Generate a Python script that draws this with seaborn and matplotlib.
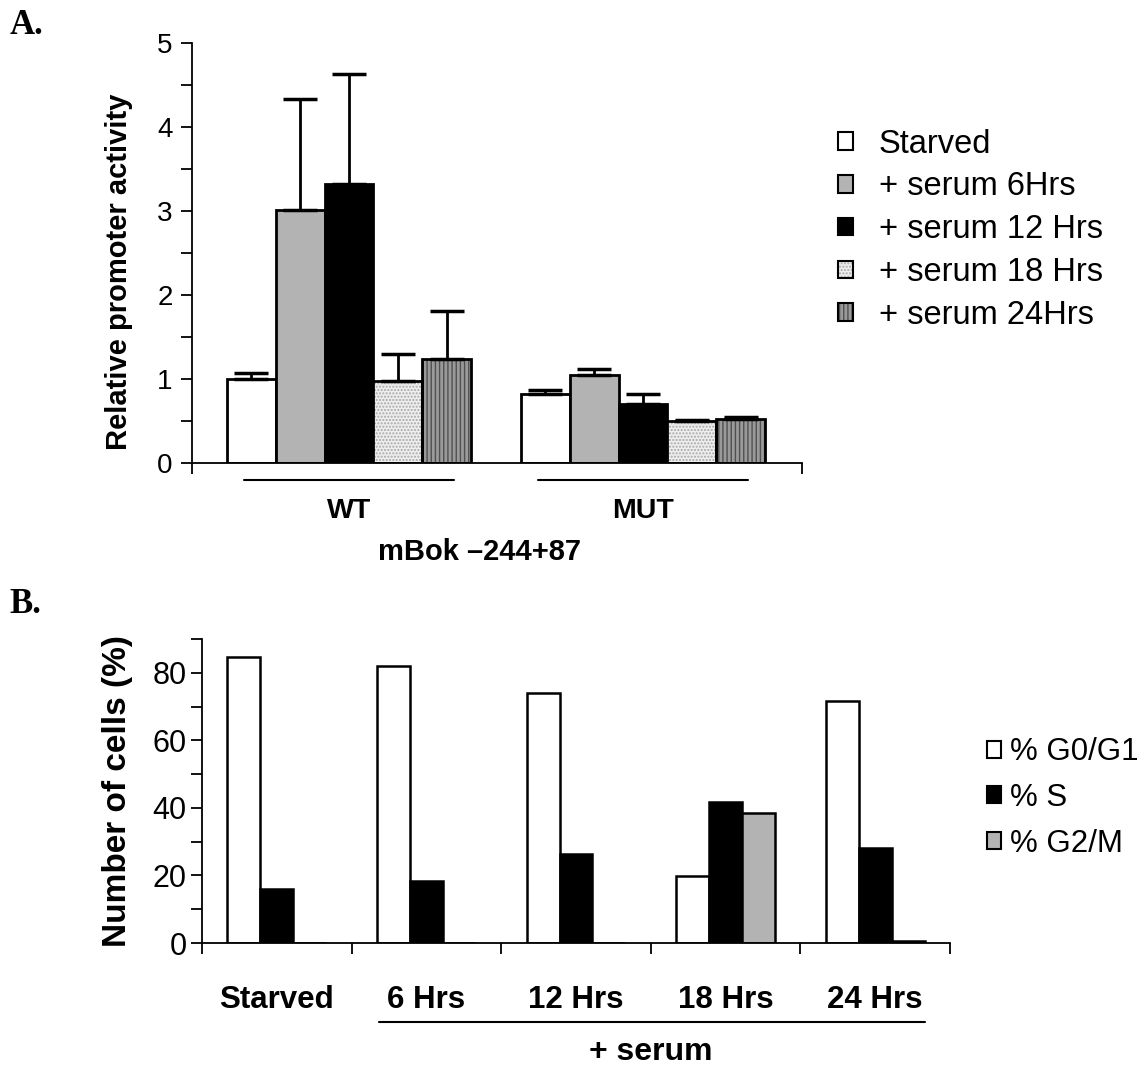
import numpy as np
import pandas as pd
import seaborn as sns
import matplotlib.pyplot as plt
from matplotlib.patches import Patch, Rectangle
from matplotlib.ticker import MultipleLocator, FixedLocator

# --- panel A: promoter activity (mean, SD) ---
constructs = ['WT', 'MUT']
conditions = ['Starved', '+ serum 6Hrs', '+ serum 12 Hrs', '+ serum 18 Hrs', '+ serum 24Hrs']
wt_activity = [1.00, 3.01, 3.32, 0.98, 1.24]
wt_sd = [0.07, 1.32, 1.31, 0.32, 0.57]
mut_activity = [0.82, 1.05, 0.70, 0.50, 0.52]
mut_sd = [0.05, 0.07, 0.12, 0.01, 0.03]

# --- panel B: cell cycle distribution ---
timepoints = ['Starved', '6 Hrs', '12 Hrs', '18 Hrs', '24 Hrs']
phases = ['% G0/G1', '% S', '% G2/M']
g0g1 = [84.7, 82.1, 74.1, 19.9, 71.7]
s_phase = [16.0, 18.4, 26.4, 41.8, 28.1]
g2m = [0.0, 0.0, 0.0, 38.5, 0.7]

df_a = pd.DataFrame({
    'construct': np.repeat(constructs, len(conditions)),
    'condition': conditions * 2,
    'activity': wt_activity + mut_activity,
    'sd': wt_sd + mut_sd,
})
df_b = pd.DataFrame({
    'time': timepoints * 3,
    'phase': np.repeat(phases, len(timepoints)),
    'pct': g0g1 + s_phase + g2m,
})

sns.set_style('ticks')
plt.rcParams['font.family'] = ['Liberation Sans', 'DejaVu Sans']
plt.rcParams['hatch.linewidth'] = 1.0
for k in ['text.color', 'axes.labelcolor', 'xtick.color', 'ytick.color', 'axes.edgecolor']:
    plt.rcParams[k] = 'black'

fill_a = {'Starved': 'white', '+ serum 6Hrs': '#b3b3b3', '+ serum 12 Hrs': 'black',
          '+ serum 18 Hrs': '#eeeeee', '+ serum 24Hrs': '#9a9a9a'}
hatch_a = {'+ serum 18 Hrs': ('.....', '#a8a8a8'), '+ serum 24Hrs': ('||||', '#505050')}
fill_b = {'% G0/G1': 'white', '% S': 'black', '% G2/M': '#b3b3b3'}

fig = plt.figure(figsize=(11.47, 10.68), dpi=100)
axA = fig.add_axes([0.1674, 0.5665, 0.5318, 0.3933])
axB = fig.add_axes([0.1761, 0.1170, 0.6521, 0.2846])

# ---------- A ----------
sns.barplot(data=df_a, x='construct', y='activity', hue='condition',
            order=constructs, hue_order=conditions, palette=fill_a,
            edgecolor='black', linewidth=2, width=0.83, errorbar=None,
            legend=False, ax=axA)

for cont, cond in zip(axA.containers, conditions):
    sub = df_a[df_a['condition'] == cond].set_index('construct').loc[constructs]
    xs = [p.get_x() + p.get_width() / 2 for p in cont.patches]
    axA.errorbar(xs, sub['activity'], yerr=[np.zeros(len(xs)), sub['sd']],
                 fmt='none', ecolor='black', elinewidth=2, capsize=12,
                 capthick=2.5, zorder=1)
    if cond in hatch_a:
        h, hc = hatch_a[cond]
        for p in cont.patches:
            p.set_hatch(h)
            p.set_edgecolor(hc)
            p.set_linewidth(0)
            axA.add_patch(Rectangle(p.get_xy(), p.get_width(), p.get_height(),
                                    fill=False, ec='black', lw=2, zorder=3))

axA.set_xlim(-0.534, 1.541)
axA.set_ylim(0, 5)
axA.yaxis.set_major_locator(MultipleLocator(1))
axA.yaxis.set_minor_locator(MultipleLocator(0.5))
axA.tick_params(axis='y', which='both', direction='out', length=8, width=1.3,
                labelsize=20, pad=6)
axA.tick_params(axis='x', which='major', length=0, pad=25)
axA.xaxis.set_minor_locator(FixedLocator([-0.534, 1.541]))
axA.tick_params(axis='x', which='minor', direction='out', length=8, width=1.3)
for lbl in axA.get_xticklabels():
    lbl.set_fontsize(20.5)
    lbl.set_fontweight('bold')
axA.set_ylabel('Relative promoter activity', fontsize=21, fontweight='bold')
axA.yaxis.set_label_coords(-0.097, 0.455)
axA.set_xlabel('mBok \u2013244+87', fontsize=21, fontweight='bold')
axA.xaxis.set_label_coords(0.472, -0.178)
for s in ['top', 'right']:
    axA.spines[s].set_visible(False)
for s in ['left', 'bottom']:
    axA.spines[s].set_linewidth(1.3)
for c in range(len(constructs)):
    axA.plot([c - 0.357, c + 0.357], [-0.04, -0.04], color='black', lw=1.5,
             transform=axA.get_xaxis_transform(), clip_on=False)

handles_a = []
for cond in conditions:
    if cond in hatch_a:
        h, hc = hatch_a[cond]
        handles_a.append((Patch(facecolor=fill_a[cond], edgecolor=hc, hatch=h, lw=0),
                          Patch(fill=False, edgecolor='black', lw=1.5)))
    else:
        handles_a.append(Patch(facecolor=fill_a[cond], edgecolor='black', lw=1.5))
fig.legend(handles_a, conditions, loc='upper left', bbox_to_anchor=(0.705, 0.907),
           frameon=False, fontsize=23.5, handlelength=0.45, handleheight=0.45,
           handletextpad=0.8, labelspacing=0.36)

# ---------- B ----------
sns.barplot(data=df_b, x='time', y='pct', hue='phase', order=timepoints,
            hue_order=phases, palette=fill_b, edgecolor='black', linewidth=1.8,
            width=0.66, errorbar=None, legend=False, ax=axB)
axB.set_xlim(-0.5, 4.5)
axB.set_ylim(0, 90)
axB.yaxis.set_major_locator(MultipleLocator(20))
axB.yaxis.set_minor_locator(MultipleLocator(10))
axB.tick_params(axis='y', which='both', direction='out', length=8, width=1.3,
                labelsize=22, pad=3)
axB.tick_params(axis='x', which='major', length=0, pad=30)
axB.xaxis.set_minor_locator(FixedLocator(np.arange(-0.5, 5, 1)))
axB.tick_params(axis='x', which='minor', direction='out', length=8, width=1.3)
for lbl in axB.get_xticklabels():
    lbl.set_fontsize(22.5)
    lbl.set_fontweight('bold')
axB.set_xlabel('')
axB.set_ylabel('Number of cells (%)', fontsize=24, fontweight='bold')
axB.yaxis.set_label_coords(-0.092, 0.5)
for s in ['top', 'right']:
    axB.spines[s].set_visible(False)
for s in ['left', 'bottom']:
    axB.spines[s].set_linewidth(1.3)
axB.plot([0.68, 4.33], [-0.26, -0.26], color='black', lw=1.5,
         transform=axB.get_xaxis_transform(), clip_on=False)
axB.text(2.5, -0.36, '+ serum', transform=axB.get_xaxis_transform(),
         ha='center', va='center', fontsize=23, fontweight='bold')

handles_b = [Patch(facecolor=fill_b[p], edgecolor='black', lw=1.5) for p in phases]
fig.legend(handles_b, phases, loc='upper left', bbox_to_anchor=(0.836, 0.336),
           frameon=False, fontsize=22.5, handlelength=0.45, handleheight=0.45,
           handletextpad=0.3, labelspacing=0.5)

fig.text(0.008, 0.976, 'A.', fontsize=25, fontweight='bold', va='center',
         family=['Liberation Serif', 'DejaVu Serif'])
fig.text(0.008, 0.434, 'B.', fontsize=25, fontweight='bold', va='center',
         family=['Liberation Serif', 'DejaVu Serif'])

fig.savefig('out.png', dpi=100)
